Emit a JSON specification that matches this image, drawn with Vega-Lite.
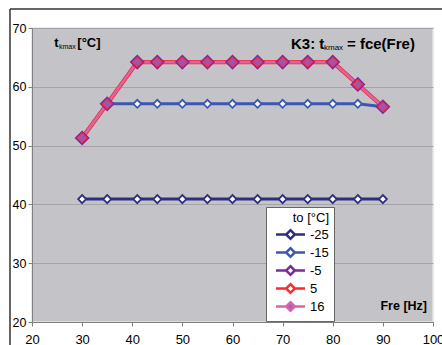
{
  "$schema": "https://vega.github.io/schema/vega-lite/v6.json",
  "width": 401,
  "height": 294,
  "autosize": {"type": "none"},
  "padding": {"left": 32, "top": 28, "right": 9, "bottom": 23},
  "background": "white",
  "config": {
    "font": "Liberation Sans",
    "view": {"fill": "#c4c4c8", "stroke": "#e2e2e2", "strokeWidth": 1.5},
    "axis": {"labelColor": "black", "domainColor": "#808080", "tickColor": "#808080", "labelFont": "Liberation Sans"},
    "legend": {"symbolSize": 210, "symbolStrokeWidth": 2.5,
               "symbolType": "M-2,0H-0.6M0.6,0H2M0,-0.6L0.6,0L0,0.6L-0.6,0Z"}
  },
  "datasets": {
    "series": [
      {"to": "-25", "Fre": 30, "t": 40.9}, {"to": "-25", "Fre": 35, "t": 40.9}, {"to": "-25", "Fre": 41, "t": 40.9},
      {"to": "-25", "Fre": 45, "t": 40.9}, {"to": "-25", "Fre": 50, "t": 40.9}, {"to": "-25", "Fre": 55, "t": 40.9},
      {"to": "-25", "Fre": 60, "t": 40.9}, {"to": "-25", "Fre": 65, "t": 40.9}, {"to": "-25", "Fre": 70, "t": 40.9},
      {"to": "-25", "Fre": 75, "t": 40.9}, {"to": "-25", "Fre": 80, "t": 40.9}, {"to": "-25", "Fre": 85, "t": 40.9},
      {"to": "-25", "Fre": 90, "t": 40.9},
      {"to": "-15", "Fre": 35, "t": 57.1}, {"to": "-15", "Fre": 41, "t": 57.1}, {"to": "-15", "Fre": 45, "t": 57.1},
      {"to": "-15", "Fre": 50, "t": 57.1}, {"to": "-15", "Fre": 55, "t": 57.1}, {"to": "-15", "Fre": 60, "t": 57.1},
      {"to": "-15", "Fre": 65, "t": 57.1}, {"to": "-15", "Fre": 70, "t": 57.1}, {"to": "-15", "Fre": 75, "t": 57.1},
      {"to": "-15", "Fre": 80, "t": 57.1}, {"to": "-15", "Fre": 85, "t": 57.1}, {"to": "-15", "Fre": 90, "t": 56.6},
      {"to": "-5", "Fre": 30, "t": 51.3}, {"to": "-5", "Fre": 35, "t": 57.1}, {"to": "-5", "Fre": 41, "t": 64.2},
      {"to": "-5", "Fre": 45, "t": 64.2}, {"to": "-5", "Fre": 50, "t": 64.2}, {"to": "-5", "Fre": 55, "t": 64.2},
      {"to": "-5", "Fre": 60, "t": 64.2}, {"to": "-5", "Fre": 65, "t": 64.2}, {"to": "-5", "Fre": 70, "t": 64.2},
      {"to": "-5", "Fre": 75, "t": 64.2}, {"to": "-5", "Fre": 80, "t": 64.2}, {"to": "-5", "Fre": 85, "t": 60.4},
      {"to": "-5", "Fre": 90, "t": 56.6},
      {"to": "5", "Fre": 30, "t": 51.3}, {"to": "5", "Fre": 35, "t": 57.1}, {"to": "5", "Fre": 41, "t": 64.2},
      {"to": "5", "Fre": 45, "t": 64.2}, {"to": "5", "Fre": 50, "t": 64.2}, {"to": "5", "Fre": 55, "t": 64.2},
      {"to": "5", "Fre": 60, "t": 64.2}, {"to": "5", "Fre": 65, "t": 64.2}, {"to": "5", "Fre": 70, "t": 64.2},
      {"to": "5", "Fre": 75, "t": 64.2}, {"to": "5", "Fre": 80, "t": 64.2}, {"to": "5", "Fre": 85, "t": 60.4},
      {"to": "5", "Fre": 90, "t": 56.6},
      {"to": "16", "Fre": 30, "t": 51.3}, {"to": "16", "Fre": 35, "t": 57.1}, {"to": "16", "Fre": 41, "t": 64.2},
      {"to": "16", "Fre": 45, "t": 64.2}, {"to": "16", "Fre": 50, "t": 64.2}, {"to": "16", "Fre": 55, "t": 64.2},
      {"to": "16", "Fre": 60, "t": 64.2}, {"to": "16", "Fre": 65, "t": 64.2}, {"to": "16", "Fre": 70, "t": 64.2},
      {"to": "16", "Fre": 75, "t": 64.2}, {"to": "16", "Fre": 80, "t": 64.2}, {"to": "16", "Fre": 85, "t": 60.4},
      {"to": "16", "Fre": 90, "t": 56.6}
    ]
  },
  "layer": [
    {
      "data": {"name": "series"},
      "transform": [{"filter": {"field": "to", "oneOf": ["-25", "-15", "-5"]}}],
      "mark": {"type": "line", "strokeWidth": 3, "clip": false},
      "encoding": {
        "x": {"field": "Fre", "type": "quantitative",
              "scale": {"domain": [20, 100], "nice": false},
              "axis": {"title": null, "values": [20, 30, 40, 50, 60, 70, 80, 90, 100], "grid": false,
                       "labelFontSize": 13, "tickSize": 4, "labelPadding": 7, "labelFlush": false}},
        "y": {"field": "t", "type": "quantitative",
              "scale": {"domain": [20, 70], "nice": false, "zero": false},
              "axis": {"title": null, "values": [20, 25, 30, 35, 40, 45, 50, 55, 60, 65, 70], "grid": true,
                       "gridColor": "#a4a4a8", "gridWidth": 1, "labelFontSize": 12.5, "tickSize": 4,
                       "labelPadding": 2, "domain": true}},
        "stroke": {"field": "to", "type": "nominal",
                   "scale": {"domain": ["-25", "-15", "-5", "5", "16"],
                             "range": ["#2e2e80", "#3a58b2", "#7a2a9c", "#ff2a2a", "#d466aa"]},
                   "legend": {"title": "to [°C]", "orient": "none", "legendX": 234, "legendY": 179,
                              "symbolType": "M-2,0H-0.6M0.6,0H2M0,-0.6L0.6,0L0,0.6L-0.6,0Z",
                              "symbolSize": 210, "symbolStrokeWidth": 2.5,
                              "symbolOffset": 11, "labelOffset": 11,
                              "labelExpr": "datum.label + '           '",
                              "fillColor": "white", "strokeColor": "#666", "padding": 5,
                              "titleFontSize": 13, "titleFontWeight": "normal", "titleColor": "black",
                              "titleAnchor": "end", "titlePadding": 1,
                              "labelFontSize": 13, "labelColor": "black",
                              "rowPadding": -1,
                              "encode": {"symbols": {"update": {
                                "fill": [{"test": "datum.value === '16'", "value": "#b45cb4"}, {"value": "white"}],
                                "opacity": {"value": 1}}}}}}
      }
    },
    {
      "data": {"name": "series"},
      "transform": [{"filter": {"field": "to", "equal": "5"}}],
      "mark": {"type": "line", "strokeWidth": 4.2, "clip": false},
      "encoding": {
        "x": {"field": "Fre", "type": "quantitative"},
        "y": {"field": "t", "type": "quantitative"},
        "stroke": {"field": "to", "type": "nominal"}
      }
    },
    {
      "data": {"name": "series"},
      "transform": [{"filter": {"field": "to", "equal": "16"}}],
      "mark": {"type": "line", "strokeWidth": 2.6, "clip": false},
      "encoding": {
        "x": {"field": "Fre", "type": "quantitative"},
        "y": {"field": "t", "type": "quantitative"},
        "stroke": {"field": "to", "type": "nominal"}
      }
    },
    {
      "data": {"name": "series"},
      "transform": [{"filter": {"field": "to", "oneOf": ["-25", "-15"]}}],
      "mark": {"type": "point", "shape": "diamond", "filled": true, "fill": "white", "opacity": 1, "strokeWidth": 1.8, "size": 64, "clip": false},
      "encoding": {
        "x": {"field": "Fre", "type": "quantitative"},
        "y": {"field": "t", "type": "quantitative"},
        "stroke": {"field": "to", "type": "nominal"}
      }
    },
    {
      "data": {"name": "series"},
      "transform": [{"filter": {"field": "to", "equal": "-5"}}],
      "mark": {"type": "point", "shape": "diamond", "filled": true, "fill": "#7a2a9c", "opacity": 1, "strokeWidth": 1.5, "size": 170, "clip": false},
      "encoding": {
        "x": {"field": "Fre", "type": "quantitative"},
        "y": {"field": "t", "type": "quantitative"},
        "stroke": {"field": "to", "type": "nominal"}
      }
    },
    {
      "data": {"name": "series"},
      "transform": [{"filter": {"field": "to", "equal": "5"}}],
      "mark": {"type": "point", "shape": "diamond", "filled": true, "fill": "#ff2a2a", "opacity": 1, "strokeWidth": 1, "size": 110, "clip": false},
      "encoding": {
        "x": {"field": "Fre", "type": "quantitative"},
        "y": {"field": "t", "type": "quantitative"},
        "stroke": {"field": "to", "type": "nominal"}
      }
    },
    {
      "data": {"name": "series"},
      "transform": [{"filter": {"field": "to", "equal": "16"}}],
      "mark": {"type": "point", "shape": "diamond", "filled": true, "fill": "#a452aa", "stroke": "#a452aa", "opacity": 1, "strokeWidth": 1, "size": 62, "clip": false},
      "encoding": {
        "x": {"field": "Fre", "type": "quantitative"},
        "y": {"field": "t", "type": "quantitative"}
      }
    },
    {
      "data": {"values": [{"a": 1}]},
      "mark": {"type": "rule", "color": "#333", "strokeWidth": 1.5, "clip": false},
      "encoding": {"x": {"datum": 15.61}, "y": {"datum": 73.23}, "y2": {"datum": 5}}
    },
    {
      "data": {"values": [{"a": 1}]},
      "mark": {"type": "rule", "color": "#333", "strokeWidth": 1.5, "clip": false},
      "encoding": {"x": {"datum": 15.61}, "x2": {"datum": 110}, "y": {"datum": 73.23}}
    },
    {
      "data": {"values": [{"label": "t"}]},
      "mark": {"type": "text", "align": "left", "baseline": "alphabetic", "fontSize": 13, "fontWeight": "bold", "color": "black"},
      "encoding": {"x": {"datum": 24.45}, "y": {"datum": 66.7}, "text": {"field": "label"}}
    },
    {
      "data": {"values": [{"label": "kmax"}]},
      "mark": {"type": "text", "align": "left", "baseline": "alphabetic", "fontSize": 7, "dx": 4.6, "dy": 1.5, "color": "black"},
      "encoding": {"x": {"datum": 24.45}, "y": {"datum": 66.7}, "text": {"field": "label"}}
    },
    {
      "data": {"values": [{"label": "[°C]"}]},
      "mark": {"type": "text", "align": "left", "baseline": "alphabetic", "fontSize": 13, "fontWeight": "bold", "dx": 23, "color": "black"},
      "encoding": {"x": {"datum": 24.45}, "y": {"datum": 66.7}, "text": {"field": "label"}}
    },
    {
      "data": {"values": [{"label": "K3: t"}]},
      "mark": {"type": "text", "align": "left", "baseline": "alphabetic", "fontSize": 15, "fontWeight": "bold", "color": "black"},
      "encoding": {"x": {"datum": 71.67}, "y": {"datum": 66.43}, "text": {"field": "label"}}
    },
    {
      "data": {"values": [{"label": "kmax"}]},
      "mark": {"type": "text", "align": "left", "baseline": "alphabetic", "fontSize": 8, "dx": 33, "dy": 1.5, "color": "black"},
      "encoding": {"x": {"datum": 71.67}, "y": {"datum": 66.43}, "text": {"field": "label"}}
    },
    {
      "data": {"values": [{"label": "= fce(Fre)"}]},
      "mark": {"type": "text", "align": "left", "baseline": "alphabetic", "fontSize": 15, "fontWeight": "bold", "dx": 56, "color": "black"},
      "encoding": {"x": {"datum": 71.67}, "y": {"datum": 66.43}, "text": {"field": "label"}}
    },
    {
      "data": {"values": [{"label": "Fre [Hz]"}]},
      "mark": {"type": "text", "align": "right", "baseline": "alphabetic", "fontSize": 12.5, "fontWeight": "bold", "color": "black"},
      "encoding": {"x": {"datum": 98.8}, "y": {"datum": 22.04}, "text": {"field": "label"}}
    }
  ]
}
